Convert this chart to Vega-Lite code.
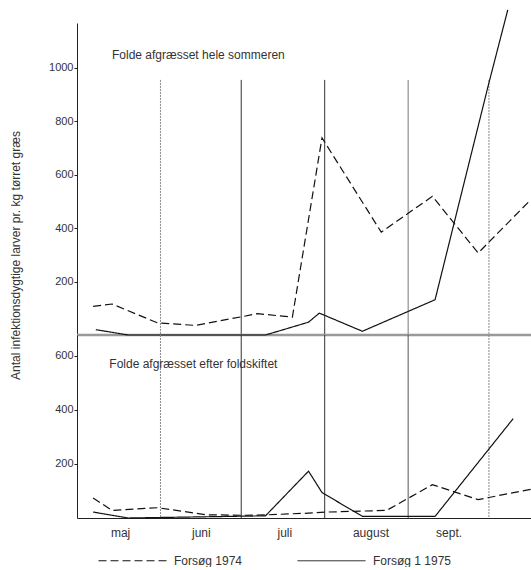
{
  "$schema": "https://vega.github.io/schema/vega-lite/v6.json",
  "background": "white",
  "padding": {"left": 9, "top": 7, "right": 0, "bottom": 0},
  "spacing": 0,
  "bounds": "flush",
  "config": {
    "view": {"stroke": null},
    "font": "Liberation Sans",
    "axis": {"grid": false, "domainColor": "#222", "tickColor": "#222", "labelColor": "#333", "labelFontSize": 11, "labelFont": "Liberation Sans", "titleFont": "Liberation Sans", "titleColor": "#333", "titleFontWeight": "normal"}
  },
  "datasets": {
    "hele_sommeren": [
      {"serie": "Forsøg 1974", "dato": "1974-05-07T00:00", "larver": 107},
      {"serie": "Forsøg 1974", "dato": "1974-05-14T00:00", "larver": 116},
      {"serie": "Forsøg 1974", "dato": "1974-05-31T00:00", "larver": 45},
      {"serie": "Forsøg 1974", "dato": "1974-06-14T00:00", "larver": 36},
      {"serie": "Forsøg 1974", "dato": "1974-07-02T00:00", "larver": 70},
      {"serie": "Forsøg 1974", "dato": "1974-07-07T00:00", "larver": 80},
      {"serie": "Forsøg 1974", "dato": "1974-07-20T00:00", "larver": 67},
      {"serie": "Forsøg 1974", "dato": "1974-07-31T00:00", "larver": 738},
      {"serie": "Forsøg 1974", "dato": "1974-08-22T00:00", "larver": 385},
      {"serie": "Forsøg 1974", "dato": "1974-09-10T00:00", "larver": 519},
      {"serie": "Forsøg 1974", "dato": "1974-09-27T00:00", "larver": 307},
      {"serie": "Forsøg 1974", "dato": "1974-10-16T00:00", "larver": 501},
      {"serie": "Forsøg 1 1975", "dato": "1975-05-08T00:00", "larver": 20},
      {"serie": "Forsøg 1 1975", "dato": "1975-05-20T00:00", "larver": 0},
      {"serie": "Forsøg 1 1975", "dato": "1975-07-10T00:00", "larver": 0},
      {"serie": "Forsøg 1 1975", "dato": "1975-07-26T00:00", "larver": 48},
      {"serie": "Forsøg 1 1975", "dato": "1975-07-30T00:00", "larver": 82},
      {"serie": "Forsøg 1 1975", "dato": "1975-08-15T00:00", "larver": 14},
      {"serie": "Forsøg 1 1975", "dato": "1975-09-11T00:00", "larver": 132},
      {"serie": "Forsøg 1 1975", "dato": "1975-10-01T00:00", "larver": 944},
      {"serie": "Forsøg 1 1975", "dato": "1975-10-08T00:00", "larver": 1217}
    ],
    "efter_foldskiftet": [
      {"serie": "Forsøg 1974", "dato": "1974-05-07T00:00", "larver": 74},
      {"serie": "Forsøg 1974", "dato": "1974-05-14T00:00", "larver": 28},
      {"serie": "Forsøg 1974", "dato": "1974-05-31T00:00", "larver": 38},
      {"serie": "Forsøg 1974", "dato": "1974-06-18T00:00", "larver": 12},
      {"serie": "Forsøg 1974", "dato": "1974-07-02T00:00", "larver": 10},
      {"serie": "Forsøg 1974", "dato": "1974-07-11T00:00", "larver": 12},
      {"serie": "Forsøg 1974", "dato": "1974-07-26T00:00", "larver": 18},
      {"serie": "Forsøg 1974", "dato": "1974-08-02T00:00", "larver": 22},
      {"serie": "Forsøg 1974", "dato": "1974-08-24T00:00", "larver": 28},
      {"serie": "Forsøg 1974", "dato": "1974-09-10T00:00", "larver": 123},
      {"serie": "Forsøg 1974", "dato": "1974-09-27T00:00", "larver": 68},
      {"serie": "Forsøg 1974", "dato": "1974-10-17T00:00", "larver": 107},
      {"serie": "Forsøg 1 1975", "dato": "1975-05-07T00:00", "larver": 22},
      {"serie": "Forsøg 1 1975", "dato": "1975-05-20T00:00", "larver": 0},
      {"serie": "Forsøg 1 1975", "dato": "1975-07-10T00:00", "larver": 8},
      {"serie": "Forsøg 1 1975", "dato": "1975-07-26T00:00", "larver": 173},
      {"serie": "Forsøg 1 1975", "dato": "1975-07-31T00:00", "larver": 94},
      {"serie": "Forsøg 1 1975", "dato": "1975-08-15T00:00", "larver": 6},
      {"serie": "Forsøg 1 1975", "dato": "1975-09-11T00:00", "larver": 6},
      {"serie": "Forsøg 1 1975", "dato": "1975-10-10T00:00", "larver": 367}
    ],
    "maanedsskift_fuld": [
      {"dato": "1975-07-01T00:00"},
      {"dato": "1975-08-01T00:00"}
    ],
    "maanedsskift_graa": [
      {"dato": "1975-09-01T00:00"}
    ],
    "maanedsskift_prik": [
      {"dato": "1975-06-01T00:00"},
      {"dato": "1975-10-01T00:00"}
    ],
    "titel_hele": [
      {"tekst": "Folde afgræsset hele sommeren", "dato": "1975-05-14T00:00"}
    ],
    "titel_efter": [
      {"tekst": "Folde afgræsset efter foldskiftet", "dato": "1975-05-13T00:00"}
    ]
  },
  "vconcat": [
    {
      "width": 455,
      "height": 312,
      "encoding": {
        "x": {"field": "dato", "timeUnit": "monthdate", "type": "temporal", "axis": null,
              "scale": {"domain": [{"month": 5, "date": 1}, {"month": 10, "date": 17}], "nice": false}}
      },
      "layer": [
        {
          "data": {"name": "maanedsskift_fuld"},
          "mark": {"type": "rule", "color": "#333", "strokeWidth": 1},
          "encoding": {"y": {"datum": 955}, "y2": {"datum": 0}}
        },
        {
          "data": {"name": "maanedsskift_graa"},
          "mark": {"type": "rule", "color": "#777", "strokeWidth": 1},
          "encoding": {"y": {"datum": 955}, "y2": {"datum": 0}}
        },
        {
          "data": {"name": "maanedsskift_prik"},
          "mark": {"type": "rule", "color": "#888", "strokeWidth": 1, "strokeDash": [2, 1]},
          "encoding": {"y": {"datum": 955}, "y2": {"datum": 0}}
        },
        {
          "data": {"values": [{}]},
          "mark": {"type": "rule", "color": "#999", "strokeWidth": 2.5},
          "encoding": {"x": {"value": 0}, "x2": {"value": 455}, "y": {"datum": 0}}
        },
        {
          "data": {"name": "hele_sommeren"},
          "mark": {"type": "line", "color": "#111", "strokeWidth": 1.2, "clip": false},
          "encoding": {
            "y": {"field": "larver", "type": "quantitative",
                  "scale": {"domain": [0, 1168], "nice": false},
                  "axis": {"values": [200, 400, 600, 800, 1000], "format": "d", "tickSize": 3, "labelPadding": 1,
                           "title": "Antal infektionsdygtige larver pr. kg tørret græs",
                           "titleFontSize": 12, "titleX": -55, "titleY": 232, "titleAlign": "center", "titleBaseline": "bottom", "titleAngle": -90}},
            "strokeDash": {"field": "serie", "type": "nominal",
                  "scale": {"domain": ["Forsøg 1974", "Forsøg 1 1975"], "range": [[8, 4], [1, 0]]},
                  "legend": {"orient": "none", "legendX": 21, "legendY": 503, "direction": "horizontal", "title": null,
                             "symbolType": "stroke", "symbolSize": 4624, "symbolStrokeWidth": 1, "symbolStrokeColor": "#222",
                             "labelFontSize": 12, "labelOffset": 7, "columnPadding": 52, "padding": 0, "labelColor": "#333", "labelFont": "Liberation Sans"}}
          }
        },
        {
          "data": {"name": "titel_hele"},
          "mark": {"type": "text", "align": "left", "baseline": "middle", "fontSize": 12, "color": "#333", "font": "Liberation Sans"},
          "encoding": {"text": {"field": "tekst"}, "y": {"datum": 1050}}
        }
      ]
    },
    {
      "width": 455,
      "height": 183,
      "encoding": {
        "x": {"field": "dato", "timeUnit": "monthdate", "type": "temporal",
              "scale": {"domain": [{"month": 5, "date": 1}, {"month": 10, "date": 17}], "nice": false},
              "axis": {"values": [{"month": 5, "date": 17}, {"month": 6, "date": 16}, {"month": 7, "date": 17}, {"month": 8, "date": 18}, {"month": 9, "date": 16}],
                       "labelExpr": "['','','','','maj','juni','juli','august','sept.','okt.'][month(datum.value)]",
                       "ticks": false, "labelPadding": 9, "labelFontSize": 12, "title": null, "labelFlush": false, "labelOverlap": false}}
      },
      "layer": [
        {
          "data": {"name": "maanedsskift_fuld"},
          "mark": {"type": "rule", "color": "#333", "strokeWidth": 1}
        },
        {
          "data": {"name": "maanedsskift_graa"},
          "mark": {"type": "rule", "color": "#555", "strokeWidth": 1}
        },
        {
          "data": {"name": "maanedsskift_prik"},
          "mark": {"type": "rule", "color": "#888", "strokeWidth": 1, "strokeDash": [2, 1]}
        },
        {
          "data": {"name": "efter_foldskiftet"},
          "mark": {"type": "line", "color": "#111", "strokeWidth": 1.2, "clip": false},
          "encoding": {
            "y": {"field": "larver", "type": "quantitative",
                  "scale": {"domain": [0, 676], "nice": false},
                  "axis": {"values": [200, 400, 600], "format": "d", "tickSize": 3, "labelPadding": 1, "title": null}},
            "strokeDash": {"field": "serie", "type": "nominal"}
          }
        },
        {
          "data": {"name": "titel_efter"},
          "mark": {"type": "text", "align": "left", "baseline": "middle", "fontSize": 12, "color": "#333", "font": "Liberation Sans"},
          "encoding": {"text": {"field": "tekst"}, "y": {"datum": 570}}
        }
      ]
    }
  ],
  "resolve": {"scale": {"y": "independent"}}
}
